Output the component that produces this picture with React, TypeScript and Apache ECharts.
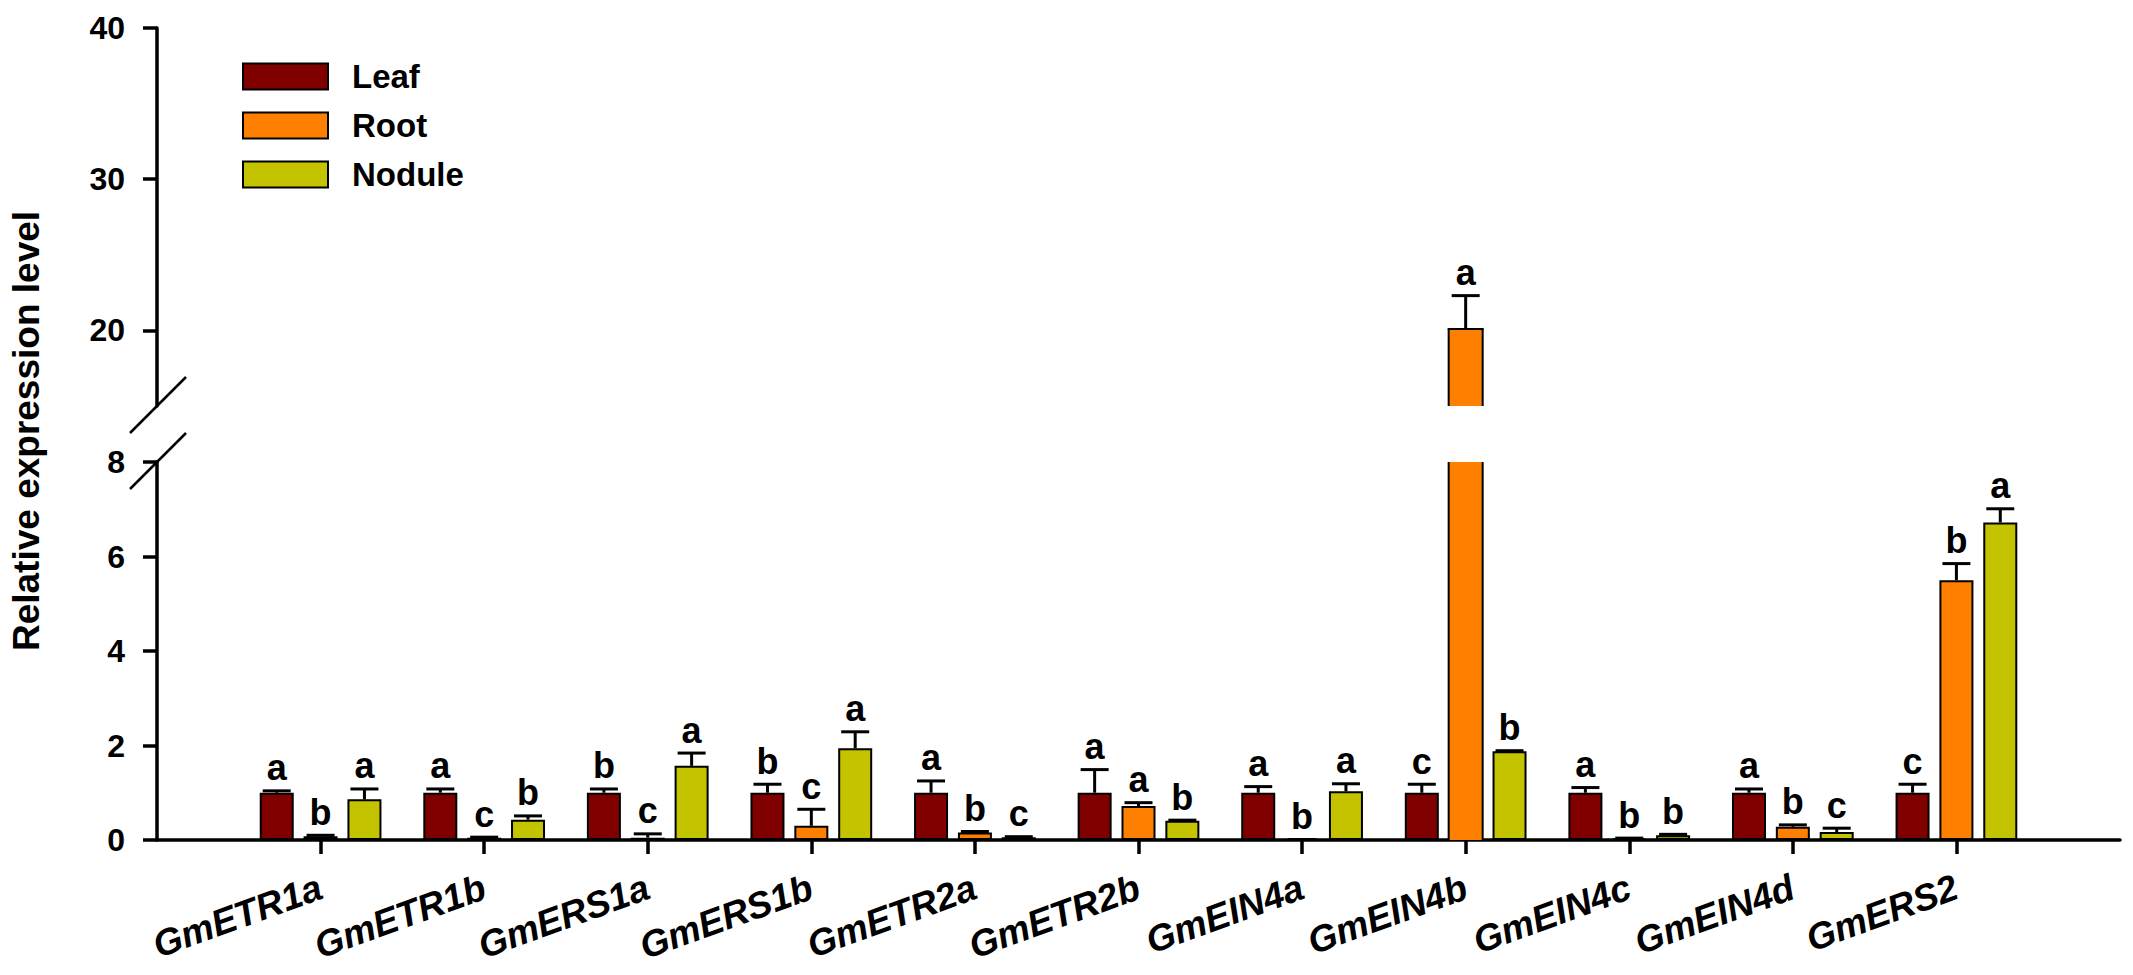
import React, { useEffect, useRef } from "react";
import * as echarts from "echarts";

// ---------- data ----------
const genes = [
  "GmETR1a", "GmETR1b", "GmERS1a", "GmERS1b", "GmETR2a", "GmETR2b",
  "GmEIN4a", "GmEIN4b", "GmEIN4c", "GmEIN4d", "GmERS2",
];
const seriesNames = ["Leaf", "Root", "Nodule"];

const leafValues = [1.0, 1.0, 1.0, 1.0, 1.0, 1.0, 1.0, 1.0, 1.0, 1.0, 1.0];
const leafErrors = [0.04, 0.08, 0.08, 0.18, 0.25, 0.49, 0.13, 0.18, 0.11, 0.08, 0.18];
const rootValues = [0.08, 0.05, 0.05, 0.3, 0.16, 0.72, 0.01, 20.1, 0.03, 0.28, 5.5];
const rootErrors = [0.02, 0.01, 0.08, 0.35, 0.02, 0.07, 0, 2.2, 0.01, 0.04, 0.35];
const noduleValues = [0.86, 0.43, 1.57, 1.94, 0.06, 0.41, 1.03, 1.88, 0.1, 0.17, 6.72];
const noduleErrors = [0.22, 0.08, 0.27, 0.35, 0.01, 0.01, 0.16, 0.01, 0.02, 0.08, 0.29];

const leafLetters = ["a", "a", "b", "b", "a", "a", "a", "c", "a", "a", "c"];
const rootLetters = ["b", "c", "c", "c", "b", "a", "b", "a", "b", "b", "b"];
const noduleLetters = ["a", "b", "a", "a", "c", "b", "a", "b", "b", "c", "a"];

const lowerTicks = [0, 2, 4, 6, 8];
const upperTicks = [20, 30, 40];
const lowerMin = 0;
const lowerMax = 8;
const upperMin = 15;
const upperMax = 40;

// ---------- layout / style ----------
const FONT = 'Arial, "Liberation Sans", Helvetica, sans-serif';
const AXIS_X = 157;
const GRID_RIGHT = 13;
const UPPER_TOP = 28;
const UPPER_BOTTOM = 406;
const LOWER_TOP = 462;
const LOWER_BOTTOM = 840;
const BAR_W = 34;
const BAR_GAP = 0.29;
const BAR_BORDER = 2;
const COLORS = ["#800000", "#FF8000", "#C3C300"];

const values = [leafValues, rootValues, noduleValues];
const errors = [leafErrors, rootErrors, noduleErrors];
const letters = [leafLetters, rootLetters, noduleLetters];
const categories = ["", ...genes, ""];

function buildOption() {
  const axisLineStyle = { color: "#000", width: 3.5 };
  const tickStyle = { color: "#000", width: 3.5 };
  const yLabel = {
    color: "#000",
    fontSize: 32,
    fontWeight: "bold",
    fontFamily: FONT,
    margin: 32,
  };

  // g = 0: upper (broken) grid, g = 1: lower grid
  const barSeries = (k: number, g: number) => ({
    type: "bar",
    name: seriesNames[k],
    xAxisIndex: g,
    yAxisIndex: g,
    barWidth: BAR_W,
    barGap: `${BAR_GAP * 100}%`,
    silent: true,
    itemStyle: { color: COLORS[k], borderColor: "#000", borderWidth: BAR_BORDER },
    data: [
      "-",
      ...values[k].map((v) => {
        if (g === 0) return v > lowerMax ? { value: v, itemStyle: { borderWidth: 0 } } : "-";
        return v > lowerMax ? { value: v, itemStyle: { borderWidth: 0 } } : v;
      }),
      "-",
    ],
  });

  const line = (x1: number, y1: number, x2: number, y2: number, w: number) => ({
    type: "line",
    shape: { x1, y1, x2, y2 },
    style: { stroke: "#000", lineWidth: w },
  });

  const errSeries = (k: number, g: number) => ({
    type: "custom",
    name: seriesNames[k] + " error",
    xAxisIndex: g,
    yAxisIndex: g,
    silent: true,
    clip: false,
    z: 5,
    encode: { x: 0, y: 1 },
    data: genes
      .map((_, i) => [i + 1, values[k][i], errors[k][i], i])
      .filter((d) => (g === 0 ? d[1] > lowerMax : true)),
    renderItem: (_params: any, api: any) => {
      const ci = api.value(0);
      const v = api.value(1);
      const e = api.value(2);
      const gi = api.value(3);
      const base = api.coord([ci, v]);
      const cx = base[0] + (k - 1) * BAR_W * (1 + BAR_GAP);
      const xl = cx - BAR_W / 2;
      const xr = cx + BAR_W / 2;
      const children: any[] = [];
      if (g === 1 && v > lowerMax) {
        // broken bar, lower part: side borders only
        const y0 = api.coord([ci, lowerMin])[1];
        const y1 = api.coord([ci, lowerMax])[1];
        children.push(line(xl, y0, xl, y1, BAR_BORDER), line(xr, y0, xr, y1, BAR_BORDER));
        return { type: "group", children };
      }
      if (g === 0) {
        // broken bar, upper part: sides and top border
        const y0 = api.coord([ci, upperMin])[1];
        const yv = base[1];
        children.push(
          line(xl, y0, xl, yv, BAR_BORDER),
          line(xr, y0, xr, yv, BAR_BORDER),
          line(xl - BAR_BORDER / 2, yv, xr + BAR_BORDER / 2, yv, BAR_BORDER)
        );
      }
      const top = api.coord([ci, v + e]);
      children.push(
        line(cx, base[1], cx, top[1], 3),
        line(cx - 14, top[1], cx + 14, top[1], 3),
        {
          type: "text",
          x: cx,
          y: top[1] - 5,
          style: {
            text: letters[k][gi],
            fill: "#000",
            fontSize: 36,
            fontWeight: "bold",
            fontFamily: FONT,
            align: "center",
            verticalAlign: "bottom",
          },
        }
      );
      return { type: "group", children };
    },
  });

  return {
    animation: false,
    backgroundColor: "#fff",
    grid: [
      {
        left: AXIS_X,
        right: GRID_RIGHT,
        top: UPPER_TOP,
        height: UPPER_BOTTOM - UPPER_TOP,
        outerBoundsMode: "none",
      },
      {
        left: AXIS_X,
        right: GRID_RIGHT,
        top: LOWER_TOP,
        height: LOWER_BOTTOM - LOWER_TOP,
        outerBoundsMode: "none",
      },
    ],
    legend: {
      data: seriesNames,
      orient: "vertical",
      left: 237,
      top: 55,
      itemWidth: 85,
      itemHeight: 26,
      itemGap: 16,
      icon: "rect",
      selectedMode: false,
      itemStyle: { borderColor: "#000", borderWidth: 2 },
      textStyle: {
        color: "#000",
        fontSize: 33,
        fontWeight: "bold",
        fontFamily: FONT,
        padding: [0, 0, 0, 19],
      },
    },
    xAxis: [
      {
        gridIndex: 0,
        type: "category",
        data: categories,
        boundaryGap: false,
        show: false,
      },
      {
        gridIndex: 1,
        type: "category",
        data: categories,
        boundaryGap: false,
        axisLine: { show: true, lineStyle: axisLineStyle },
        axisTick: {
          show: true,
          length: 14,
          lineStyle: tickStyle,
          interval: (_i: number, v: string) => v !== "",
        },
        axisLabel: {
          interval: 0,
          rotate: 20,
          margin: 46,
          color: "#000",
          fontSize: 37,
          fontWeight: "bold",
          fontStyle: "italic",
          fontFamily: FONT,
        },
        splitLine: { show: false },
      },
    ],
    yAxis: [
      {
        gridIndex: 0,
        type: "value",
        min: upperMin,
        max: upperMax,
        axisLine: { show: true, lineStyle: axisLineStyle },
        axisTick: { show: true, length: 14, lineStyle: tickStyle, customValues: upperTicks },
        axisLabel: { ...yLabel, customValues: upperTicks },
        splitLine: { show: false },
      },
      {
        gridIndex: 1,
        type: "value",
        min: lowerMin,
        max: lowerMax,
        axisLine: { show: true, lineStyle: axisLineStyle },
        axisTick: { show: true, length: 14, lineStyle: tickStyle, customValues: lowerTicks },
        axisLabel: { ...yLabel, customValues: lowerTicks },
        splitLine: { show: false },
      },
    ],
    series: [
      barSeries(0, 1),
      barSeries(1, 1),
      barSeries(2, 1),
      barSeries(0, 0),
      barSeries(1, 0),
      barSeries(2, 0),
      errSeries(0, 1),
      errSeries(1, 1),
      errSeries(2, 1),
      errSeries(0, 0),
      errSeries(1, 0),
      errSeries(2, 0),
    ],
    graphic: [
      {
        type: "text",
        x: 26,
        y: 431,
        rotation: Math.PI / 2,
        style: {
          text: "Relative expression level",
          fill: "#000",
          fontSize: 37,
          fontWeight: "bold",
          fontFamily: FONT,
          align: "center",
          verticalAlign: "middle",
        },
      },
      {
        type: "line",
        shape: { x1: AXIS_X - 27, y1: UPPER_BOTTOM + 27, x2: AXIS_X + 29, y2: UPPER_BOTTOM - 29 },
        style: { stroke: "#000", lineWidth: 2.5 },
      },
      {
        type: "line",
        shape: { x1: AXIS_X - 27, y1: LOWER_TOP + 27, x2: AXIS_X + 29, y2: LOWER_TOP - 29 },
        style: { stroke: "#000", lineWidth: 2.5 },
      },
    ],
  };
}

export default function App() {
  const ref = useRef<HTMLDivElement>(null);
  useEffect(() => {
    if (!ref.current) return;
    const chart = echarts.init(ref.current, null, { renderer: "svg" });
    chart.setOption(buildOption() as any);
    return () => chart.dispose();
  }, []);
  return (
    <div
      ref={ref}
      style={{ position: "absolute", left: 0, top: 0, width: 2133, height: 975, background: "#fff" }}
    />
  );
}
